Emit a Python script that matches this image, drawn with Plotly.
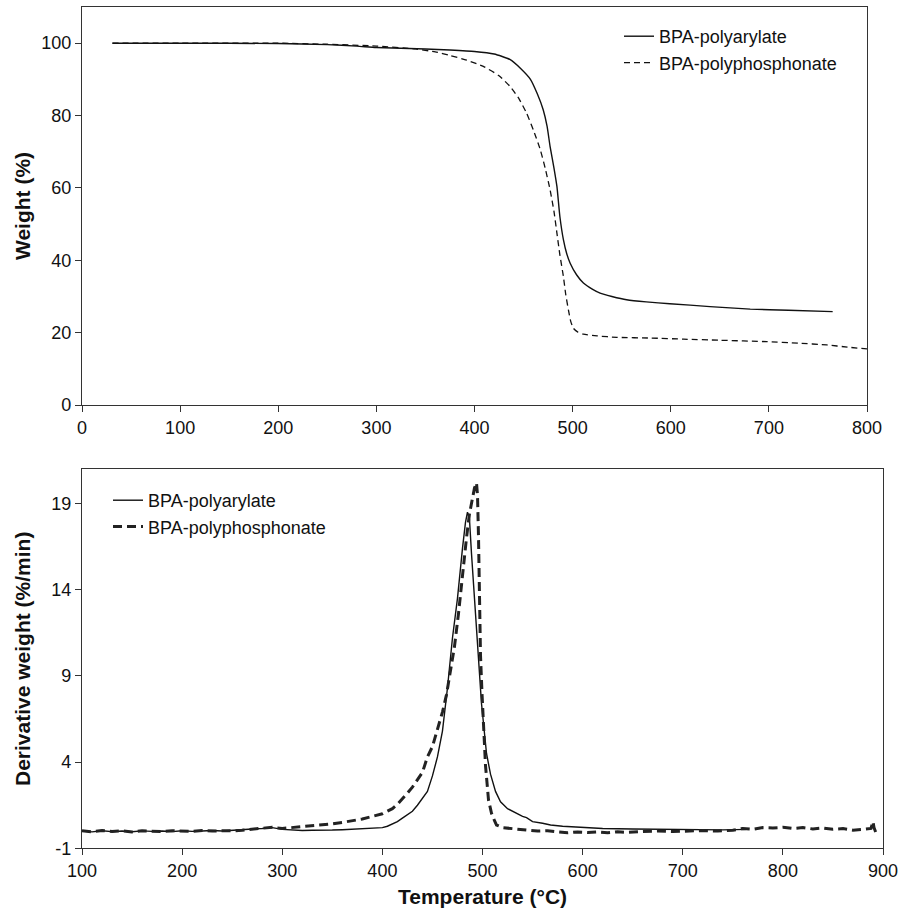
import plotly.graph_objects as go

# ---------------- Data ----------------
series_names = ["BPA-polyarylate", "BPA-polyphosphonate"]

# TGA (top panel)
tga_arylate_T = [31, 100, 200, 250, 280, 300, 350, 375, 400, 420, 436, 447, 457, 464, 470, 474, 477, 481, 484,
                 487, 490.6, 494, 497.5, 504, 511, 520, 528, 540, 555, 575, 599, 640, 681, 720, 765]
tga_arylate_W = [100, 100, 99.9, 99.6, 99.2, 98.8, 98.4, 98.1, 97.7, 97.0, 95.5, 93.0, 90.0, 86.0, 81.6, 77.0,
                 71.5, 65.5, 60.4, 52.1, 45.7, 41.8, 39.2, 36.0, 33.7, 32.0, 30.9, 30.0, 29.1, 28.5, 28.0, 27.2,
                 26.5, 26.2, 25.8]

tga_phos_T = [31, 100, 200, 250, 300, 340, 360, 375, 392, 409, 425, 436, 445, 453, 460, 467, 472, 477, 481,
              484, 487, 490.6, 493, 495.7, 498, 500.8, 505, 511, 525, 545, 580, 613, 650, 698, 730, 759, 780, 800]
tga_phos_W = [100, 100, 100, 99.7, 99.2, 98.4, 97.6, 96.6, 95.3, 93.6, 91.0, 88.1, 84.8, 80.7, 76.0, 70.6,
              65.5, 59.5, 53.5, 47.5, 41.5, 35.5, 30.5, 26.3, 23.2, 21.2, 20.2, 19.6, 19.1, 18.7, 18.5, 18.2,
              17.9, 17.5, 17.1, 16.6, 16.0, 15.5]

# DTG (bottom panel)
dtg_arylate_T = [100, 110, 120, 130, 140, 150, 160, 170, 180, 190, 200, 210, 220, 230, 240, 250, 260, 270,
                 280, 290, 300, 310, 320, 330, 340, 350, 360, 370, 380, 390, 400, 405, 410, 415, 420, 425,
                 430, 435, 440, 445, 450, 455, 460, 465, 470, 475, 480, 483, 485, 487, 489, 492, 495, 499,
                 504, 508, 513, 518, 525, 534, 540, 544, 550, 560, 568, 580, 600, 620, 650, 680, 700, 720,
                 740, 765]
dtg_arylate_D = [0.0, -0.05, 0.02, -0.03, 0.0, -0.04, 0.01, -0.02, 0.0, -0.03, 0.02, -0.02, 0.0, 0.03, 0.0,
                 0.05, 0.08, 0.12, 0.15, 0.2, 0.1, 0.05, 0.03, 0.05, 0.04, 0.06, 0.08, 0.1, 0.12, 0.15, 0.2,
                 0.28, 0.4, 0.55, 0.75, 0.95, 1.15, 1.5, 1.9, 2.3, 3.2, 4.3, 5.8, 8.3, 11.2, 13.5, 16.4, 17.9,
                 18.5, 18.1, 16.1, 13.5, 11.0, 7.4, 4.5, 3.3, 2.3, 1.7, 1.3, 1.03, 0.85, 0.78, 0.55, 0.45,
                 0.35, 0.28, 0.22, 0.15, 0.12, 0.1, 0.08, 0.1, 0.07, 0.1]

dtg_phos_T = [100, 110, 120, 130, 140, 150, 160, 170, 180, 190, 200, 210, 220, 230, 240, 250, 260, 270, 280,
              290, 300, 310, 320, 330, 340, 350, 360, 370, 380, 390, 400, 405, 410, 415, 420, 425, 430, 435,
              440, 445, 450, 455, 460, 464, 468, 472, 476, 479, 481, 484, 487, 490, 492, 494, 495, 496, 497,
              498, 499.5, 501, 503, 506, 509, 512, 514, 520, 526, 535, 545, 555, 565, 575, 585, 595, 605,
              615, 625, 635, 645, 660, 675, 690, 705, 720, 735, 750, 760, 770, 780, 790, 800, 810, 820, 830,
              840, 850, 860, 870, 880, 888, 890, 891, 893]
dtg_phos_D = [0.02, -0.04, 0.03, -0.02, 0.01, -0.05, 0.02, 0.0, -0.03, 0.02, 0.0, -0.02, 0.03, 0.0, 0.02,
              0.01, 0.05, 0.1, 0.15, 0.22, 0.15, 0.2, 0.25, 0.3, 0.35, 0.42, 0.5, 0.6, 0.7, 0.85, 1.0, 1.15,
              1.3, 1.55, 1.85, 2.2, 2.55, 2.95, 3.4, 4.3, 4.9, 5.9, 6.9, 7.9, 9.3, 10.7, 12.6, 14.4, 15.5,
              17.0, 18.4, 19.3, 19.9, 20.2, 19.5, 17.1, 14.0, 10.2, 8.0, 6.45, 3.8, 1.8, 1.03, 0.6, 0.35,
              0.2, 0.16, 0.08, 0.05, 0.0, 0.02, -0.05, -0.1, -0.05, -0.08, -0.05, -0.1, -0.04, -0.08, -0.03,
              0.0, -0.03, 0.0, 0.03, 0.0, 0.05, 0.15, 0.1, 0.2, 0.18, 0.22, 0.15, 0.2, 0.12, 0.18, 0.1, 0.15,
              0.05, 0.1, 0.15, 0.55, 0.2, -0.1]

top_xticks = [0, 100, 200, 300, 400, 500, 600, 700, 800]
top_yticks = [0, 20, 40, 60, 80, 100]
bot_xticks = [100, 200, 300, 400, 500, 600, 700, 800, 900]
bot_yticks = [-1, 4, 9, 14, 19]
bot_yticklabels = ["-1", "4", "9", "14", "19"]

# ---------------- Figure ----------------
FONT = "Arial, Liberation Sans, sans-serif"
LINE = "#111111"

fig = go.Figure()

fig.add_trace(go.Scatter(x=tga_arylate_T, y=tga_arylate_W, mode="lines", name=series_names[0],
                         line=dict(color=LINE, width=1.4, shape="spline", smoothing=0.5),
                         xaxis="x", yaxis="y", legend="legend"))
fig.add_trace(go.Scatter(x=tga_phos_T, y=tga_phos_W, mode="lines", name=series_names[1],
                         line=dict(color=LINE, width=1.3, dash="6px,4px", shape="spline", smoothing=0.5),
                         xaxis="x", yaxis="y", legend="legend"))

fig.add_trace(go.Scatter(x=dtg_arylate_T, y=dtg_arylate_D, mode="lines", name=series_names[0],
                         line=dict(color=LINE, width=1.4),
                         xaxis="x2", yaxis="y2", legend="legend2"))
fig.add_trace(go.Scatter(x=dtg_phos_T, y=dtg_phos_D, mode="lines", name=series_names[1],
                         line=dict(color="#222222", width=3, dash="9px,5px"),
                         xaxis="x2", yaxis="y2", legend="legend2"))

axis_common = dict(showline=True, linecolor="#333333", linewidth=1.2, mirror=True, ticks="outside",
                   ticklen=6, tickwidth=1.2, tickcolor="#333333", showgrid=False, zeroline=False,
                   automargin=False,
                   tickfont=dict(family=FONT, size=18, color="#111111"))

fig.update_layout(
    width=900, height=908,
    margin=dict(l=0, r=0, t=0, b=0, autoexpand=False),
    paper_bgcolor="white", plot_bgcolor="white",
    font=dict(family=FONT, color="#111111"),
    xaxis=dict(domain=[82 / 900, 867 / 900], range=[0, 800], tickvals=top_xticks, anchor="y", **axis_common),
    yaxis=dict(domain=[1 - 405 / 908, 1 - 7 / 908], range=[0, 110], tickvals=top_yticks, anchor="x",
               **axis_common),
    xaxis2=dict(domain=[82 / 900, 883 / 900], range=[100, 900], tickvals=bot_xticks, anchor="y2",
                **axis_common),
    yaxis2=dict(domain=[1 - 848.3 / 908, 1 - 469 / 908], range=[-1, 21], tickvals=bot_yticks,
                ticktext=bot_yticklabels, anchor="x2", **axis_common),
    legend=dict(x=(659 - 40) / 900, y=1 - 18 / 908, xanchor="left", yanchor="top", tracegroupgap=0,
                bgcolor="rgba(0,0,0,0)", font=dict(family=FONT, size=18, color="#111111")),
    legend2=dict(x=(148 - 40) / 900, y=1 - 482 / 908, xanchor="left", yanchor="top",
                 bgcolor="rgba(0,0,0,0)", font=dict(family=FONT, size=18, color="#111111")),
    showlegend=True,
)

ann_font = dict(family=FONT, size=21, color="#111111")
fig.add_annotation(text="<b>Weight (%)</b>", x=22 / 900, y=1 - 206 / 908, xref="paper", yref="paper",
                   xanchor="center", yanchor="middle", showarrow=False, textangle=-90, font=ann_font)
fig.add_annotation(text="<b>Derivative weight (%/min)</b>", x=22 / 900, y=1 - 659 / 908, xref="paper",
                   yref="paper", xanchor="center", yanchor="middle", showarrow=False, textangle=-90,
                   font=ann_font)
fig.add_annotation(text="<b>Temperature (°C)</b>", x=482.5 / 900, y=1 - 896 / 908, xref="paper",
                   yref="paper", xanchor="center", yanchor="middle", showarrow=False, font=ann_font)

fig.write_html("out.html", config={"displayModeBar": False},
               post_script="document.body.style.margin='0';document.body.style.overflow='hidden';")
